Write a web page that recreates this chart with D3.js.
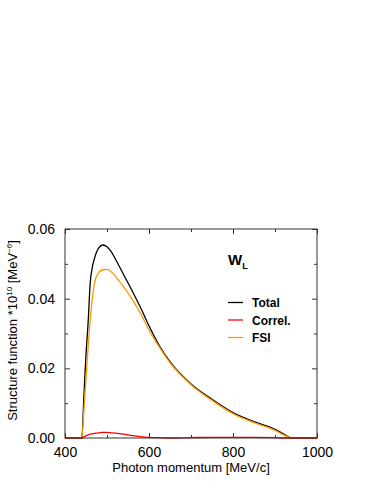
<!DOCTYPE html>
<html>
<head>
<meta charset="utf-8">
<script src="https://d3js.org/d3.v7.min.js"></script>
<style>
  body { margin: 0; background: #fff; }
  svg { display: block; font-family: "Liberation Sans", Arial, Helvetica, sans-serif; }
  .frame { fill: none; stroke: #333; stroke-width: 1; }
  .tick line { stroke: #333; }
</style>
</head>
<body>
<div id="chart"></div>
<script>
// photon momentum grid [MeV/c]
var momentum = [400, 440, 445, 450, 455, 460, 465, 470, 480, 490, 500, 510, 520, 540, 560, 580,
                600, 625, 650, 700, 750, 800, 850, 900, 920, 940, 1000];
// structure function *10^10 [MeV^-6]
var total  = [0, 0, 0.012, 0.024, 0.033, 0.0445, 0.049, 0.0515, 0.0545, 0.0554, 0.0549, 0.0535, 0.0514,
              0.0468, 0.0422, 0.0374, 0.0322, 0.0264, 0.0219, 0.0155, 0.0111, 0.0073, 0.0047, 0.0025, 0.0012, 0, 0];
var correl = [0, 0, 0.0003, 0.0006, 0.0009, 0.0011, 0.0012, 0.0013, 0.0015, 0.0016, 0.0016, 0.0015, 0.0014,
              0.0011, 0.0007, 0.0004, 0.0002, 0.0001, 0, 0.0001, 0.0002, 0.0002, 0.0002, 0.0001, 0, 0, 0];
var fsi    = [0, 0, 0.008, 0.017, 0.026, 0.034, 0.040, 0.0443, 0.0474, 0.0483, 0.0484, 0.0477, 0.0464,
              0.0433, 0.0398, 0.0357, 0.0310, 0.0260, 0.0216, 0.0153, 0.0108, 0.0070, 0.0044, 0.0022, 0.0009, 0, 0];

var xTicks = [400, 600, 800, 1000];
var yTicks = [0, 0.02, 0.04, 0.06];

var series = [
  {name: "Total",   values: total,  color: "#000000"},
  {name: "FSI",     values: fsi,    color: "#ff9900"},
  {name: "Correl.", values: correl, color: "#ff0000"}
];
var legendOrder = ["Total", "Correl.", "FSI"];

var width = 383, height = 495;
var margin = {left: 65, right: 66, top: 229, bottom: 57};
var w = width - margin.left - margin.right,
    h = height - margin.top - margin.bottom;

var svg = d3.select("#chart").append("svg")
    .attr("width", width)
    .attr("height", height);

var g = svg.append("g")
    .attr("transform", "translate(" + margin.left + "," + margin.top + ")");

var x = d3.scaleLinear().domain([400, 1000]).range([0, w]);
var y = d3.scaleLinear().domain([0, 0.06]).range([h, 0]);

var minorX = d3.range(400, 1001, 100).filter(function(d) { return d % 200 != 0; });
var minorY = [0.01, 0.03, 0.05];

// bottom + left axes with labels, top + right mirrored ticks (all pointing inward)
g.append("g").attr("transform", "translate(0," + h + ")")
    .call(d3.axisBottom(x).tickValues(xTicks).tickSize(-5).tickPadding(9).tickFormat(d3.format("d")));
g.append("g").attr("transform", "translate(0," + h + ")")
    .call(d3.axisBottom(x).tickValues(minorX).tickSize(-3).tickFormat(""));
g.append("g")
    .call(d3.axisTop(x).tickValues(xTicks).tickSize(-5).tickFormat(""));
g.append("g")
    .call(d3.axisTop(x).tickValues(minorX).tickSize(-3).tickFormat(""));

g.append("g")
    .call(d3.axisLeft(y).tickValues(yTicks).tickSize(-5).tickPadding(10).tickFormat(d3.format(".2f")));
g.append("g")
    .call(d3.axisLeft(y).tickValues(minorY).tickSize(-3).tickFormat(""));
g.append("g").attr("transform", "translate(" + w + ",0)")
    .call(d3.axisRight(y).tickValues(yTicks).tickSize(-5).tickFormat(""));
g.append("g").attr("transform", "translate(" + w + ",0)")
    .call(d3.axisRight(y).tickValues(minorY).tickSize(-3).tickFormat(""));

g.selectAll(".domain").remove();
g.selectAll(".tick text")
    .attr("font-size", 14)
    .attr("font-family", "Liberation Sans, Arial, sans-serif")
    .attr("fill", "#000");

// curves
var line = d3.line()
    .x(function(d, i) { return x(momentum[i]); })
    .y(function(d) { return y(d); })
    .curve(d3.curveMonotoneX);

g.selectAll(".curve")
  .data(series)
  .enter().append("path")
    .attr("class", "curve")
    .attr("fill", "none")
    .attr("stroke", function(d) { return d.color; })
    .attr("stroke-width", 1.3)
    .attr("d", function(d) { return line(d.values); });

g.append("rect").attr("class", "frame")
    .attr("x", 0).attr("y", 0).attr("width", w).attr("height", h);

// title W_L
var title = svg.append("text")
    .attr("x", 228).attr("y", 265)
    .attr("font-size", 15).attr("font-weight", "bold");
title.append("tspan").text("W");
title.append("tspan").attr("font-size", 9).attr("dy", 4).text("L");

// legend
var leg = svg.selectAll(".leg")
  .data(legendOrder.map(function(n) { return series.filter(function(s) { return s.name == n; })[0]; }))
  .enter().append("g")
    .attr("class", "leg")
    .attr("transform", function(d, i) { return "translate(228," + (302.5 + i * 17.5) + ")"; });
leg.append("line")
    .attr("x1", 0).attr("x2", 15)
    .attr("stroke", function(d) { return d.color; })
    .attr("stroke-width", 1.3);
leg.append("text")
    .attr("x", 24).attr("y", 4.5)
    .attr("font-size", 12).attr("font-weight", "bold")
    .text(function(d) { return d.name; });

// axis titles
svg.append("text")
    .attr("x", margin.left + w / 2).attr("y", 472)
    .attr("text-anchor", "middle").attr("font-size", 13)
    .text("Photon momentum [MeV/c]");

var yl = svg.append("text")
    .attr("transform", "translate(17," + (margin.top + h / 2 - 3) + ") rotate(-90)")
    .attr("text-anchor", "middle").attr("font-size", 13);
yl.append("tspan").text("Structure function *10");
yl.append("tspan").attr("font-size", 8).attr("dy", -5).text("10");
yl.append("tspan").attr("dy", 5).text(" [MeV");
yl.append("tspan").attr("font-size", 8).attr("dy", -5).text("\u22126");
yl.append("tspan").attr("dy", 5).text("]");
</script>
</body>
</html>
